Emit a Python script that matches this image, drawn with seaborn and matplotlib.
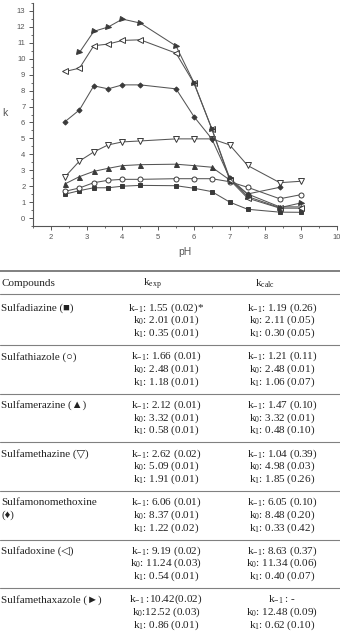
import numpy as np
import pandas as pd
import seaborn as sns
import matplotlib.pyplot as plt
from matplotlib.ticker import MultipleLocator

# pH of the measurements
ph = [2.4, 2.8, 3.2, 3.6, 4.0, 4.5, 5.5, 6.0, 6.5, 7.0, 7.5, 8.4, 9.0]

# k values (nan = no point)
sulfadiazine = [1.50, 1.72, 1.90, 1.90, 2.00, 2.05, 2.03, 1.87, 1.66, 1.00, 0.55, 0.37, 0.36]
sulfathiazole = [1.68, 1.89, 2.22, 2.37, 2.43, 2.43, 2.47, 2.47, 2.47, 2.28, 1.93, 1.21, 1.47]
sulfamerazine = [2.15, 2.60, 2.93, 3.12, 3.29, 3.35, 3.38, 3.29, 3.19, 2.39, 1.51, 0.70, 0.70]
sulfamethazine = [2.60, 3.58, 4.15, 4.59, 4.78, 4.84, 4.97, 4.97, 4.97, 4.59, 3.30, 2.22, 2.31]
sulfamonomethoxine = [6.06, 6.79, 8.30, 8.11, 8.36, 8.36, 8.11, 6.37, 4.97, 2.50, 1.51, 1.93, np.nan]
sulfadoxine = [9.20, 9.41, 10.82, 10.92, 11.15, 11.19, 10.35, 8.47, 5.60, 2.40, 1.25, 0.62, 0.62]
sulfamethoxazole = [np.nan, 10.40, 11.72, 11.99, 12.49, 12.24, 10.80, 8.50, 5.60, 2.50, 1.35, 0.65, 0.95]

series_names = ['Sulfadiazine', 'Sulfathiazole', 'Sulfamerazine', 'Sulfamethazine',
                'Sulfamonomethoxine', 'Sulfadoxine', 'Sulfamethoxazole']
series_values = [sulfadiazine, sulfathiazole, sulfamerazine, sulfamethazine,
                 sulfamonomethoxine, sulfadoxine, sulfamethoxazole]

# table contents
compounds = ['Sulfadiazine (■)', 'Sulfathiazole (○)', 'Sulfamerazine (▲)',
             'Sulfamethazine (▽)', 'Sulfamonomethoxine\n(♦)', 'Sulfadoxine (◁)',
             'Sulfamethaxazole (►)']
k_exp = [
    [': 1.55 (0.02)*', ': 2.01 (0.01)', ': 0.35 (0.01)'],
    [': 1.66 (0.01)', ': 2.48 (0.01)', ': 1.18 (0.01)'],
    [': 2.12 (0.01)', ': 3.32 (0.01)', ': 0.58 (0.01)'],
    [': 2.62 (0.02)', ': 5.09 (0.01)', ': 1.91 (0.01)'],
    [': 6.06 (0.01)', ': 8.37 (0.01)', ': 1.22 (0.02)'],
    [': 9.19 (0.02)', ': 11.24 (0.03)', ': 0.54 (0.01)'],
    [' :10.42(0.02)', ':12.52 (0.03)', ': 0.86 (0.01)'],
]
k_calc = [
    [': 1.19 (0.26)', ': 2.11 (0.05)', ': 0.30 (0.05)'],
    [': 1.21 (0.11)', ': 2.48 (0.01)', ': 1.06 (0.07)'],
    [': 1.47 (0.10)', ': 3.32 (0.01)', ': 0.48 (0.10)'],
    [': 1.04 (0.39)', ': 4.98 (0.03)', ': 1.85 (0.26)'],
    [': 6.05 (0.10)', ': 8.48 (0.20)', ': 0.33 (0.42)'],
    [': 8.63 (0.37)', ': 11.34 (0.06)', ': 0.40 (0.07)'],
    [' : -', ': 12.48 (0.09)', ': 0.62 (0.10)'],
]
k_subs = ['-1', '0', '1']

df = pd.DataFrame({'pH': ph * len(series_names),
                   'k': sum(series_values, []),
                   'compound': np.repeat(series_names, len(ph))}).dropna()

sns.set_style('ticks')
plt.rcParams['font.family'] = ['Liberation Sans', 'DejaVu Sans']
plt.rcParams['mathtext.fontset'] = 'custom'
plt.rcParams['mathtext.rm'] = 'Liberation Serif'
plt.rcParams['mathtext.it'] = 'Liberation Serif'

W, H = 340, 633
fig = plt.figure(figsize=(W / 100, H / 100), dpi=100)
ax = fig.add_axes([33 / W, 1 - 226 / H, (337 - 33) / W, (226 - 3) / H])

line_col = '#3a3a3a'
styles = {
    'Sulfadiazine': dict(marker='s', ms=3.2, mfc=line_col),
    'Sulfathiazole': dict(marker='o', ms=3.6, mfc='white'),
    'Sulfamerazine': dict(marker='^', ms=3.6, mfc=line_col),
    'Sulfamethazine': dict(marker='v', ms=4.0, mfc='white'),
    'Sulfamonomethoxine': dict(marker='D', ms=2.6, mfc=line_col),
    'Sulfadoxine': dict(marker='<', ms=4.0, mfc='white'),
    'Sulfamethoxazole': dict(marker='>', ms=3.6, mfc=line_col),
}
for name in series_names:
    st = styles[name]
    sns.lineplot(data=df[df['compound'] == name], x='pH', y='k', ax=ax,
                 color='#555555', lw=0.75, marker=st['marker'], markersize=st['ms'],
                 markerfacecolor=st['mfc'], markeredgecolor=line_col,
                 markeredgewidth=0.7, legend=False)

ax.set_xlim(1.5, 10.0)
ax.set_ylim(-0.5, 13.5)
ax.xaxis.set_major_locator(MultipleLocator(1))
ax.xaxis.set_minor_locator(MultipleLocator(0.5))
ax.yaxis.set_major_locator(MultipleLocator(1))
ax.yaxis.set_minor_locator(MultipleLocator(0.5))
ax.set_xticks(range(2, 11))
ax.tick_params(which='major', length=3, width=0.7, color='#555555',
               labelsize=5.5, labelcolor='#555555', pad=2.5)
ax.tick_params(which='minor', length=1.6, width=0.6, color='#555555')
sns.despine(ax=ax)
for s in ['left', 'bottom']:
    ax.spines[s].set_color('#555555')
    ax.spines[s].set_linewidth(0.8)
ax.set_xlabel('pH', fontsize=7.5, color='#555555')
ax.set_ylabel('k', fontsize=7.5, color='#555555', rotation=0)
ax.xaxis.set_label_coords(0.5, -0.117)
ax.yaxis.set_label_coords(-0.092, 0.507)
ax.yaxis.label.set_va('center')
ax.xaxis.label.set_va('center')


def fy(y):
    return 1 - y / H


serif = ['Liberation Serif', 'DejaVu Sans']
tcol = '#222222'
rule_col = '#808080'

# rules
fig.add_artist(plt.Line2D([0, 1], [fy(271), fy(271)], color=rule_col, lw=1.4))
fig.add_artist(plt.Line2D([0, 1], [fy(294), fy(294)], color=rule_col, lw=0.8))

fig.text(1 / W, fy(284), 'Compounds', family=serif, fontsize=8, color=tcol, va='center')
fig.text(152 / W, fy(284), r'k$_{\mathrm{exp}}$', family=serif, fontsize=8,
         color=tcol, va='center', ha='center')
fig.text(265 / W, fy(284), r'k$_{\mathrm{calc}}$', family=serif, fontsize=8,
         color=tcol, va='center', ha='center')

for i, comp in enumerate(compounds):
    y0 = 308 + 48.6 * i
    if i > 0:
        fig.add_artist(plt.Line2D([0, 1], [fy(y0 - 11.5), fy(y0 - 11.5)],
                                  color=rule_col, lw=0.8))
    for j, part in enumerate(comp.split('\n')):
        fig.text(1 / W, fy(y0 + 12.7 * j), part, family=serif, fontsize=8,
                 color=tcol, va='center')
    for j in range(3):
        yj = y0 + 12.7 * j
        fig.text(166 / W, fy(yj), r'k$_{\mathrm{%s}}$%s' % (k_subs[j], k_exp[i][j]),
                 family=serif, fontsize=8, color=tcol, va='center', ha='center')
        fig.text(282 / W, fy(yj), r'k$_{\mathrm{%s}}$%s' % (k_subs[j], k_calc[i][j]),
                 family=serif, fontsize=8, color=tcol, va='center', ha='center')

fig.savefig('out.png', dpi=100, facecolor='white')
